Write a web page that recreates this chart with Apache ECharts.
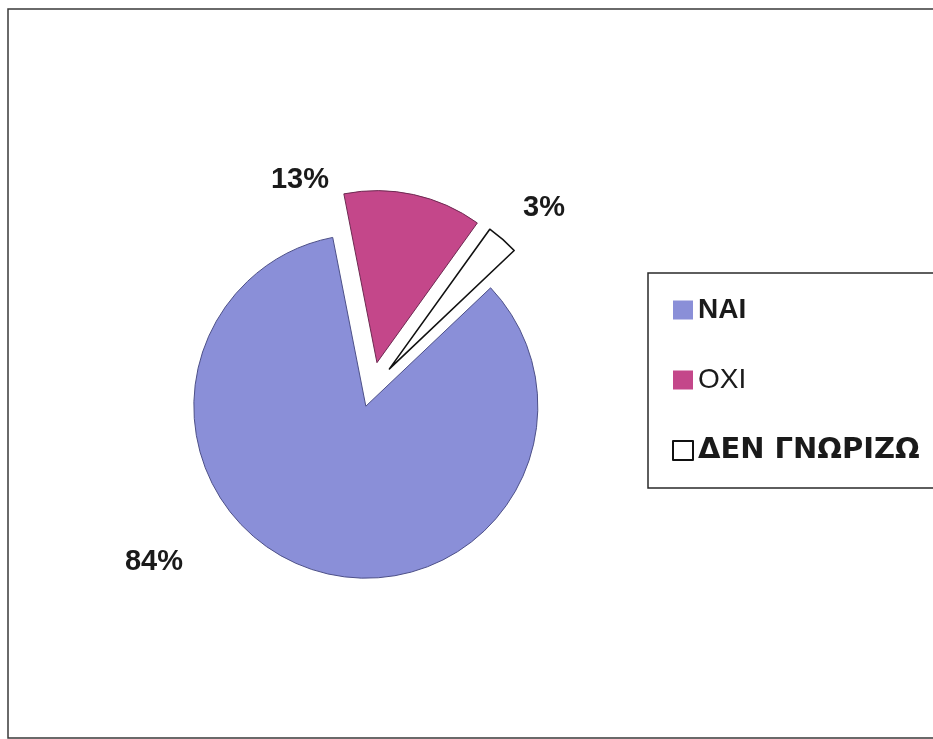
<!DOCTYPE html>
<html>
<head>
<meta charset="utf-8">
<script src="https://cdn.jsdelivr.net/npm/echarts@6/dist/echarts.min.js"></script>
<style>
  html, body { margin: 0; padding: 0; background: #ffffff; }
  #chart { width: 933px; height: 739px; }
</style>
</head>
<body>
<div id="chart"></div>
<script>
// Survey answers and their shares (%)
const categories = ['ΝΑΙ', 'ΟΧΙ', 'ΔΕΝ ΓΝΩΡΙΖΩ'];
const values = [84, 13, 3];

// Slice styling
const fills = ['#8a8fd8', '#c4478a', '#ffffff'];
const outlines = ['#4d5088', '#6e2a52', '#111111'];
const outlineWidths = [1, 1, 1.6];

// Where each percentage label sits (text centre, px)
const labelSpots = [[154, 562], [300, 180], [544, 208]];

const PIE_CENTER = [371, 390];
const PIE_RADIUS = 172;
const START_ANGLE = 43.5;
const FONT = '"Liberation Sans", Arial, sans-serif';
const WIDE_FONT = '"DejaVu Sans", sans-serif';

const TRANSPARENT = { color: 'rgba(0,0,0,0)', borderWidth: 0 };

function basePie() {
  return {
    type: 'pie',
    center: PIE_CENTER,
    radius: PIE_RADIUS,
    startAngle: START_ANGLE,
    clockwise: true,
    avoidLabelOverlap: false,
    animation: false,
    emphasis: { disabled: true },
    labelLine: { show: false }
  };
}

// Slice series: draws the listed slices, pulled out from the centre by `offset`
function sliceSeries(visibleIdx, offset) {
  return Object.assign(basePie(), {
    selectedMode: 'multiple',
    selectedOffset: offset,
    label: { show: false },
    data: categories.map(function (name, i) {
      const shown = visibleIdx.indexOf(i) >= 0;
      const style = shown
        ? { color: fills[i], borderColor: outlines[i], borderWidth: outlineWidths[i] }
        : TRANSPARENT;
      return {
        name: name,
        value: values[i],
        selected: shown,
        itemStyle: style,
        select: { itemStyle: style }
      };
    })
  });
}

// Percentage labels for every slice
function labelSeries() {
  return Object.assign(basePie(), {
    silent: true,
    itemStyle: TRANSPARENT,
    label: {
      show: true,
      position: 'outside',
      formatter: '{d}%',
      fontFamily: FONT,
      fontSize: 29,
      fontWeight: 'bold',
      color: '#1a1a1a'
    },
    labelLayout: function (p) {
      const s = labelSpots[p.dataIndex];
      return { x: s[0], y: s[1], align: 'center', verticalAlign: 'middle' };
    },
    data: categories.map(function (name, i) {
      return { name: name, value: values[i] };
    })
  });
}

const chart = echarts.init(document.getElementById('chart'), null, { renderer: 'canvas' });

chart.setOption({
  backgroundColor: '#ffffff',
  animation: false,
  legend: {
    orient: 'vertical',
    left: 672,
    top: 296,
    padding: 0,
    itemWidth: 20,
    itemHeight: 19,
    itemGap: 42,
    selectedMode: false,
    textStyle: { fontFamily: FONT, fontSize: 28, color: '#1a1a1a' },
    data: categories.map(function (name, i) {
      return {
        name: name,
        icon: 'rect',
        itemStyle: {
          color: fills[i],
          borderColor: i === 2 ? '#111111' : fills[i],
          borderWidth: i === 2 ? 2 : 0
        },
        textStyle: i === 2
          ? { fontFamily: WIDE_FONT, fontWeight: 'bold', fontSize: 29 }
          : { fontWeight: i === 1 ? 'normal' : 'bold' }
      };
    })
  },
  graphic: [
    {
      // chart frame
      type: 'rect',
      shape: { x: 8, y: 9, width: 1000, height: 729 },
      style: { fill: 'none', stroke: '#3a3a3a', lineWidth: 1.5 },
      silent: true,
      z: -1
    },
    {
      // legend frame
      type: 'rect',
      shape: { x: 648, y: 273, width: 400, height: 215 },
      style: { fill: 'none', stroke: '#2a2a2a', lineWidth: 1.5 },
      silent: true,
      z: -1
    }
  ],
  series: [
    sliceSeries([0], 17),
    sliceSeries([1, 2], 28),
    labelSeries()
  ]
});
</script>
</body>
</html>
